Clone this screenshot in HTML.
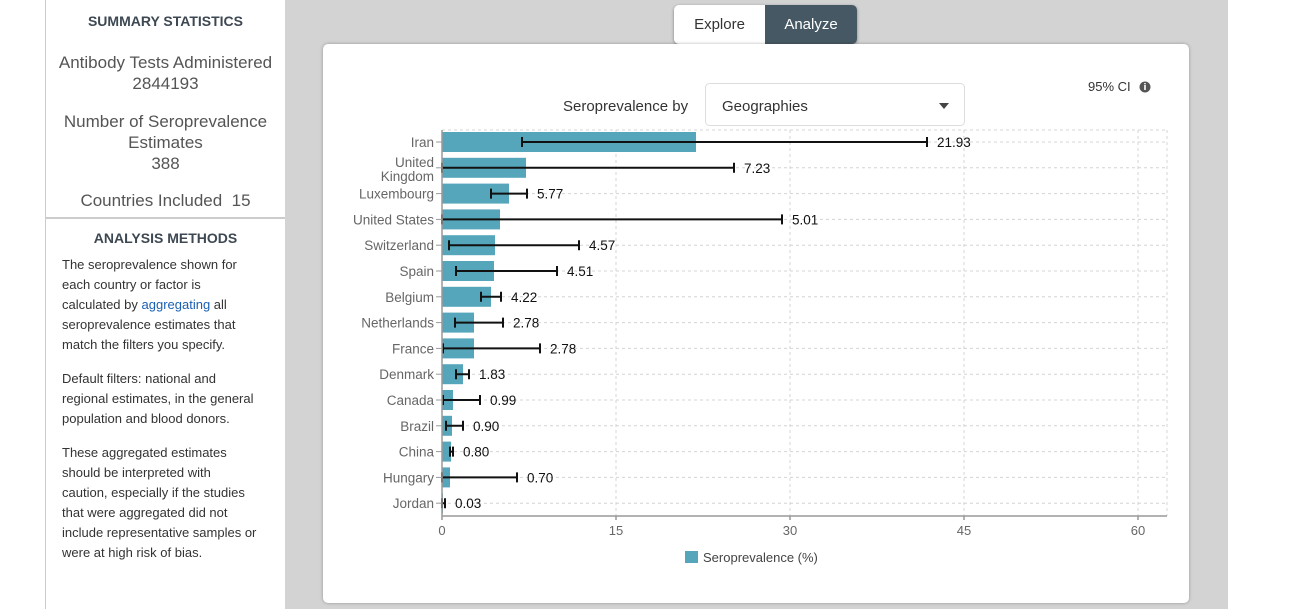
<!DOCTYPE html>
<html><head><meta charset="utf-8"><style>
body{margin:0;width:1293px;height:609px;background:#fff;font-family:"Liberation Sans",sans-serif;position:relative;overflow:hidden}
.left{position:absolute;left:45px;top:0;width:239px;height:609px;border-left:1px solid #ccc;border-right:1px solid #ccc;background:#fff;color:#444}
.gray{position:absolute;left:285px;top:0;width:943px;height:609px;background:#d3d3d3}
.h{font-weight:bold;font-size:14px;text-align:center;color:#3d4852}
.st{font-size:17px;text-align:center;color:#555;line-height:21px}
.m{font-size:13px;line-height:20px;color:#333;padding:0 16px;white-space:nowrap}
.card{position:absolute;left:323px;top:44px;width:866px;height:559px;background:#fff;border-radius:5px;box-shadow:0 0 3px rgba(0,0,0,.3)}
.tabs{position:absolute;left:674px;top:5px;height:39px;width:183px;border-radius:5px;overflow:hidden;box-shadow:0 1px 3px rgba(0,0,0,.4);font-size:15px}
.tabs div{position:absolute;top:0;height:39px;line-height:40px;text-align:center}
</style></head><body>
<div class="left">
<div class="h" style="position:absolute;top:13px;width:100%">SUMMARY STATISTICS</div>
<div class="st" style="position:absolute;top:52px;width:100%">Antibody Tests Administered<br>2844193</div>
<div class="st" style="position:absolute;top:111px;width:100%">Number of Seroprevalence<br>Estimates<br>388</div>
<div class="st" style="position:absolute;top:190px;width:100%">Countries Included&nbsp; 15</div>
<div style="position:absolute;top:217px;width:100%;border-top:2px solid #ccc"></div>
<div class="h" style="position:absolute;top:230px;width:100%">ANALYSIS METHODS</div>
<div class="m" style="position:absolute;top:255px">The seroprevalence shown for<br>each country or factor is<br>calculated by <span style="color:#1a5fb4">aggregating</span> all<br>seroprevalence estimates that<br>match the filters you specify.<div style="height:14px"></div>Default filters: national and<br>regional estimates, in the general<br>population and blood donors.<div style="height:14px"></div>These aggregated estimates<br>should be interpreted with<br>caution, especially if the studies<br>that were aggregated did not<br>include representative samples or<br>were at high risk of bias.</div>
</div>
<div class="gray"></div>
<div class="tabs"><div style="left:0;width:91px;background:#fff;color:#333">Explore</div><div style="left:91px;width:92px;background:#455863;color:#fff">Analyze</div></div>
<div class="card"></div>
<svg style="position:absolute;left:0;top:0" width="1293" height="609" font-family="Liberation Sans, sans-serif">
<text x="563" y="111" font-size="15" fill="#333">Seroprevalence by</text>
<rect x="705.5" y="83.5" width="259" height="42" rx="4" fill="#fff" stroke="#ddd"/>
<text x="722" y="111" font-size="15" fill="#333">Geographies</text>
<path d="M939 103h10l-5 6z" fill="#444"/>
<text x="1088" y="91" font-size="13" fill="#333">95% CI</text>
<circle cx="1145" cy="87" r="5.5" fill="#555"/><rect x="1144.2" y="85" width="1.6" height="5" fill="#fff"/><rect x="1144.2" y="83" width="1.6" height="1.3" fill="#fff"/>
<g stroke="#d4d4d4" stroke-dasharray="3,3" fill="none">
<path d="M442 130H1167M616 130V516M790 130V516M964 130V516M1138 130V516M1167 130V516"/>
<g id="hl"></g>
</g>
<g id="rows"></g>
<path d="M442 130V516H1167M616 516v4M790 516v4M964 516v4M1138 516v4M442 516v4" stroke="#999" stroke-width="1.5" fill="none"/>
<g font-size="13" fill="#666" text-anchor="middle"><text x="442" y="535">0</text><text x="616" y="535">15</text><text x="790" y="535">30</text><text x="964" y="535">45</text><text x="1138" y="535">60</text></g>
<rect x="685" y="551" width="13" height="12" fill="#56a6bb"/>
<text x="703" y="562" font-size="13" fill="#444">Seroprevalence (%)</text>
</svg>
<script>
var d=[["Iran",696,522,927,"21.93"],["United|Kingdom",526,442,734,"7.23"],["Luxembourg",509,491,527,"5.77"],["United States",500,442,782,"5.01"],["Switzerland",495,449,579,"4.57"],["Spain",494,456,557,"4.51"],["Belgium",491,481,501,"4.22"],["Netherlands",474,455,503,"2.78"],["France",474,443,540,"2.78"],["Denmark",463,456,469,"1.83"],["Canada",453,443,480,"0.99"],["Brazil",452,446,463,"0.90"],["China",451,450,453,"0.80"],["Hungary",450,442,517,"0.70"],["Jordan",443,442,445,"0.03"]];
var s="",h="";
d.forEach(function(r,i){var y=142+i*25.8;h+='<path d="M442 '+y+'H1167"/>';
s+='<rect x="442" y="'+(y-10)+'" width="'+(r[1]-442)+'" height="20" fill="#56a6bb"/>';
s+='<path d="M'+r[2]+' '+y+'H'+r[3]+'M'+r[2]+' '+(y-5)+'v10M'+r[3]+' '+(y-5)+'v10" stroke="#111" stroke-width="2"/>';
s+='<text x="'+(r[3]+10)+'" y="'+(y+5)+'" font-size="13.5" fill="#111">'+r[4]+'</text>';
s+='<path d="M436 '+y+'h6" stroke="#999"/>';
var n=r[0].split("|");
if(n.length>1){s+='<text x="434" y="'+(y-1)+'" font-size="13.5" fill="#666" text-anchor="end">'+n[0]+'</text><text x="434" y="'+(y+13)+'" font-size="13.5" fill="#666" text-anchor="end">'+n[1]+'</text>';}
else s+='<text x="434" y="'+(y+5)+'" font-size="13.5" fill="#666" text-anchor="end">'+n[0]+'</text>';});
document.getElementById("rows").innerHTML=s;document.getElementById("hl").innerHTML=h;
</script>
</body></html>
